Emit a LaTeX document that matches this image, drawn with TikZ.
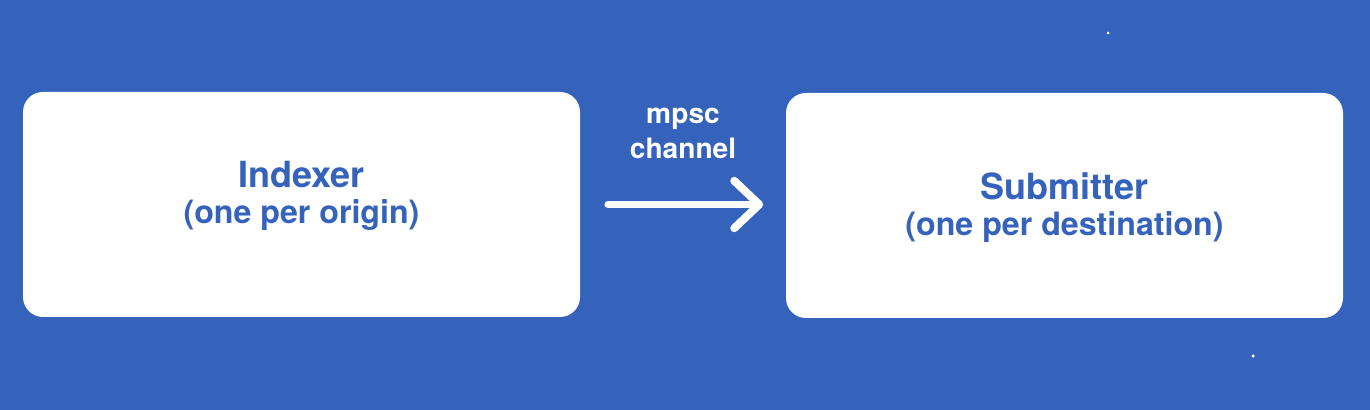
\documentclass[tikz,border=0pt]{standalone}
\usepackage{fontspec}
\setmainfont{TeX Gyre Heros}
\usetikzlibrary{positioning,arrows.meta}
\definecolor{bgblue}{RGB}{53,98,187}
\tikzset{box node/.style={rectangle,rounded corners=0.4cm,fill=white,minimum width=11.14cm,minimum height=4.5cm,inner sep=0pt},
name text/.style={align=center,text=bgblue,font=\fontsize{18.3}{20.5}\selectfont\bfseries},
flow/.style={draw=white,line width=4.5pt,line cap=round,-{Straight Barb[length=0.5cm,width=0.95cm,line cap=round,line join=round]}},
}
\newcommand{\bigname}[1]{{\fontsize{20.5}{20.5}\selectfont #1}}

\begin{document}
\begin{tikzpicture}
		\fill[bgblue] (0,0) rectangle (27.4,8.2);
		\useasboundingbox (0,0) rectangle (27.4,8.2);
		
		\node[box node] (indexer) at (6.03,4.11) {};
		\node[box node] (submitter) at (21.29,4.09) {};
		\node[name text] (indexer text) at ([yshift=0.17cm]indexer.center) {\bigname{Indexer}\\(one per origin)};
		\node[name text] (submitter text) at ([yshift=-0.05cm]submitter.center) {\bigname{Submitter}\\(one per destination)};
		
		\draw[flow,shorten <=0.56cm,shorten >=0.45cm]
		(indexer.east) -- node[above=0.72cm,align=center,text=white,font=\fontsize{16}{20}\selectfont\bfseries] (channel) {mpsc\\channel} (indexer.east -| submitter.west);
		
		% two stray dots
		\fill[white] (22.16,7.54) circle (0.03);
		\fill[white] (25.06,1.08) circle (0.035);
	\end{tikzpicture}
\end{document}
